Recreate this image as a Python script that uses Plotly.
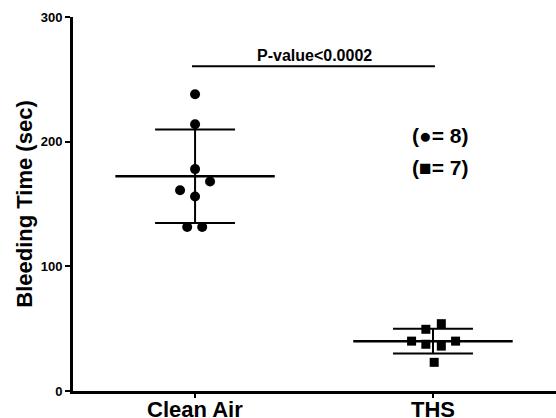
import numpy as np
import plotly.graph_objects as go

categories = ["Clean Air", "THS"]
clean_air = [238, 214, 178, 168, 161, 156, 131.5, 131.5]
clean_air_jitter = [0, 0, 0, 0.063, -0.063, 0, -0.033, 0.03]
ths = [49.5, 54, 40, 37.5, 36, 40, 23]
ths_jitter = [-0.03, 0.035, -0.09, -0.03, 0.035, 0.095, 0.005]
y_ticks = [0, 100, 200, 300]
p_text = "P-value<0.0002"
p_level = 260.4
n_labels = ["(\u25CF= 8)", "(\u25A0= 7)"]
n_label_y = [205, 179.5]

FONT = "Liberation Sans, Arial, sans-serif"
fig = go.Figure()

groups = [(clean_air, clean_air_jitter, "circle", 10), (ths, ths_jitter, "square", 9)]
for i, (vals, jit, sym, sz) in enumerate(groups):
    v = np.array(vals)
    m, s = v.mean(), v.std(ddof=1)
    fig.add_trace(go.Scatter(x=[i - 0.335, i + 0.335], y=[m, m], mode="lines",
                             line=dict(color="black", width=2.5), showlegend=False, hoverinfo="skip"))
    for yy in (m - s, m + s):
        fig.add_trace(go.Scatter(x=[i - 0.168, i + 0.168], y=[yy, yy], mode="lines",
                                 line=dict(color="black", width=2), showlegend=False, hoverinfo="skip"))
    fig.add_trace(go.Scatter(x=[i, i], y=[m - s, m + s], mode="lines",
                             line=dict(color="black", width=2), showlegend=False, hoverinfo="skip"))
    fig.add_trace(go.Scatter(x=[i + j for j in jit], y=vals, mode="markers",
                             marker=dict(symbol=sym, size=sz, color="black"),
                             showlegend=False))

fig.add_trace(go.Scatter(x=[-0.013, 1.008], y=[p_level, p_level], mode="lines",
                         line=dict(color="black", width=2), showlegend=False, hoverinfo="skip"))
fig.add_annotation(x=0.5, y=p_level, text="<b>%s</b>" % p_text, showarrow=False,
                   yanchor="bottom", yshift=0, font=dict(family=FONT, size=16, color="black"))
for lab, yy in zip(n_labels, n_label_y):
    fig.add_annotation(x=1.03, y=yy, text="<b>%s</b>" % lab, showarrow=False,
                       font=dict(family=FONT, size=21, color="black"))
# category labels
for i, c in enumerate(categories):
    fig.add_annotation(x=i, y=0, yref="paper", text="<b>%s</b>" % c, showarrow=False,
                       yanchor="top", yshift=-4, font=dict(family=FONT, size=22, color="black"))

fig.update_layout(
    width=556, height=418,
    margin=dict(l=73, r=0, t=17, b=27),
    plot_bgcolor="white", paper_bgcolor="white",
    font=dict(family=FONT, color="black"),
)
fig.update_xaxes(range=[-0.513, 1.517], tickvals=[0, 1], showticklabels=False,
                 showline=True, linecolor="black", linewidth=3,
                 ticks="outside", ticklen=4, tickwidth=2, tickcolor="black",
                 showgrid=False, zeroline=False, automargin=False)
fig.update_yaxes(range=[0, 300], tickvals=y_ticks,
                 ticktext=["<b>%d</b>" % t for t in y_ticks],
                 tickfont=dict(size=13, family=FONT, color="black"),
                 title=dict(text="<b>Bleeding Time (sec)</b>", font=dict(size=22, family=FONT, color="black"), standoff=2),
                 showline=True, linecolor="black", linewidth=3,
                 ticks="outside", ticklen=5, tickwidth=2, tickcolor="black",
                 showgrid=False, zeroline=False)

fig.write_html("out.html")
